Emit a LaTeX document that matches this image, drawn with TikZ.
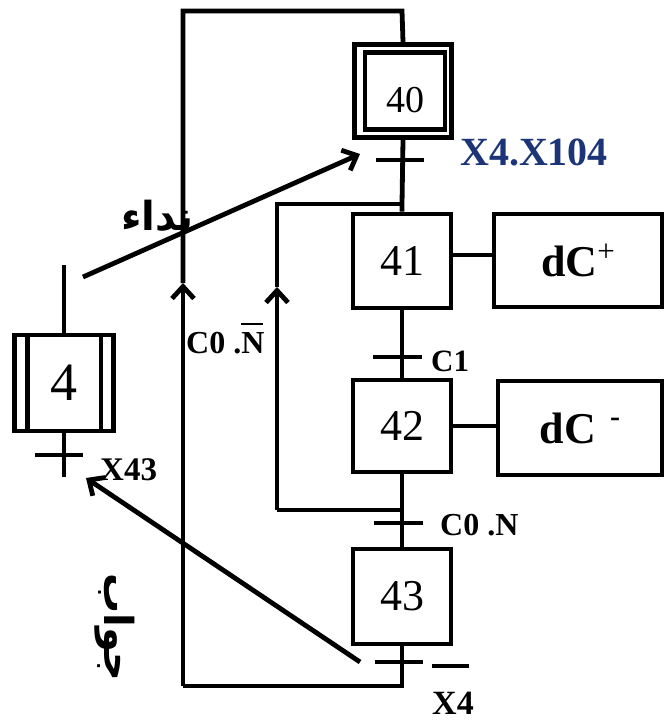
\documentclass[tikz,border=0pt]{standalone}
\usepackage{fontspec}
\setmainfont{Liberation Serif}
\newfontfamily\arabicfont[Script=Arabic]{DejaVu Sans}
\TeXXeTstate=1
\usetikzlibrary{arrows.meta,calc}
\definecolor{navy}{RGB}{28,52,120}
\begin{document}
\begin{tikzpicture}[x=1pt,y=-1pt,
  ln/.style={line width=4.8pt},
  stepbox/.style={draw,line width=4.8pt,inner sep=0pt,minimum width=98pt,minimum height=94pt,font=\fontsize{44}{44}\selectfont},
  actbox/.style={draw,line width=4.8pt,inner sep=0pt,font=\bfseries\fontsize{44}{44}\selectfont},
  trbar/.style={fill=black,inner sep=0pt,minimum width=48pt,minimum height=4.8pt},
  arr/.style={line width=4.8pt,-{Straight Barb[length=12pt,width=22pt]}},
  lab/.style={font=\bfseries\fontsize{33}{33}\selectfont,inner sep=0pt},
  artext/.style={font=\arabicfont\bfseries\fontsize{40}{40}\selectfont,inner sep=0pt}
]
\useasboundingbox (0,0) rectangle (666,722);

% Arabic labels (under the lines)
\node[artext,anchor=east] (call) at (194,216) {\beginR نداء\endR};
\node[artext,rotate=-90] (answer) at (115,627) {\beginR جواب\endR};

% steps
\node[stepbox,minimum width=97pt,minimum height=93pt,line width=5pt] (s40o) at (403,91) {};
\node[stepbox,minimum width=80pt,minimum height=77pt,line width=4.2pt] (s40) at (405,91) {};
\node[inner sep=0pt,font=\fontsize{38}{38}\selectfont] (n40) at (405,100) {40};
\node[stepbox] (s41) at (402,261) {41};
\node[stepbox,minimum height=92pt] (s42) at (402,426) {42};
\node[stepbox,minimum height=95pt] (s43) at (402,596.5) {43};
\node[stepbox,minimum width=99pt,minimum height=96pt,font=\fontsize{54}{54}\selectfont] (s4) at (64,383) {4};
\draw[ln] ([xshift=15pt]s4.north west) -- ([xshift=15pt]s4.south west);
\draw[ln] ([xshift=-15pt]s4.north east) -- ([xshift=-15pt]s4.south east);

% actions
\node[actbox,minimum width=168pt,minimum height=93pt] (a41) at (578,260.5) {dC\raisebox{15pt}{\mdseries\fontsize{31}{31}\selectfont +}};
\node[actbox,minimum width=164pt,minimum height=94pt] (a42) at (580,428) {dC\hspace{14pt}\raisebox{17pt}{\fontsize{30}{30}\selectfont -}};

% transitions
\node[trbar] (t40) at (400,160) {};
\node[trbar,minimum width=49pt] (t41) at (397,357) {};
\node[trbar,minimum width=49pt] (t42) at (398,523) {};
\node[trbar] (t43) at (399,662) {};
\node[trbar] (t4) at (59,455) {};

% coordinates
\coordinate (tl) at (183,11);
\coordinate (tr) at (402,11);
\coordinate (bl) at (183,686);
\coordinate (br) at (402,686);
\coordinate (al) at (183,283);
\coordinate (j1) at (402,204);
\coordinate (j1l) at (277,204);
\coordinate (j2) at (402,510);
\coordinate (j2l) at (277,510);
\coordinate (ar) at (277,287);
\coordinate (s4top) at (64,265);
\coordinate (s4bot) at (64,477);
\coordinate (c1) at (83,277);
\coordinate (c2) at (360,154);
\coordinate (r1) at (360,662);
\coordinate (r2) at (86,478);

% links
\draw[arr] (bl) -- (al);
\draw[ln] (al) -- (tl) -- (tr) -- (s40o.north);
\draw[ln] (s40o.south) -- (j1) -- (s41.north);
\draw[arr] (j2l) -- (ar);
\draw[ln] (ar) -- (j1l) -- (j1);
\draw[ln] (s41.south) -- (s42.north);
\draw[ln] (s42.south) -- (j2) -- (s43.north);
\draw[ln] (j2) -- (j2l);
\draw[ln] (s43.south) -- (br) -- (bl);
\draw[ln] ([yshift=6pt]s41.east) -- ([yshift=6pt]s41.east -| a41.west);
\draw[ln] (s42.east) -- (s42.east -| a42.west);
\draw[ln] (s4top) -- (s4.north);
\draw[ln] (s4.south) -- (s4bot);
\draw[arr] (c1) -- (c2);
\draw[arr] (r1) -- (r2);

% transition labels
\node[lab,text=navy,anchor=base west,font=\bfseries\fontsize{40}{40}\selectfont] (lx) at (460,165) {X4.X104};
\node[lab,anchor=base west,font=\bfseries\fontsize{31}{31}\selectfont] (lc1) at (431,371) {C1};
\node[lab,anchor=base west,font=\bfseries\fontsize{32}{32}\selectfont] (lc0n) at (440,535) {C0 .N};
\node[lab,anchor=base west,font=\bfseries\fontsize{32}{32}\selectfont] (lc0nb) at (186,353) {C0 .\vbox{\offinterlineskip\hbox{\rule{22pt}{2.5pt}}\vskip 7pt\hbox{N}}};
\node[lab,anchor=base west] (lx43) at (100,480) {X43};
\node[lab,anchor=base west,font=\bfseries\fontsize{34}{34}\selectfont] (lx4) at (432,714) {\vbox{\offinterlineskip\hbox{\rule{37pt}{3.5pt}}\vskip 24pt\hbox{X4}}};
\end{tikzpicture}
\end{document}
